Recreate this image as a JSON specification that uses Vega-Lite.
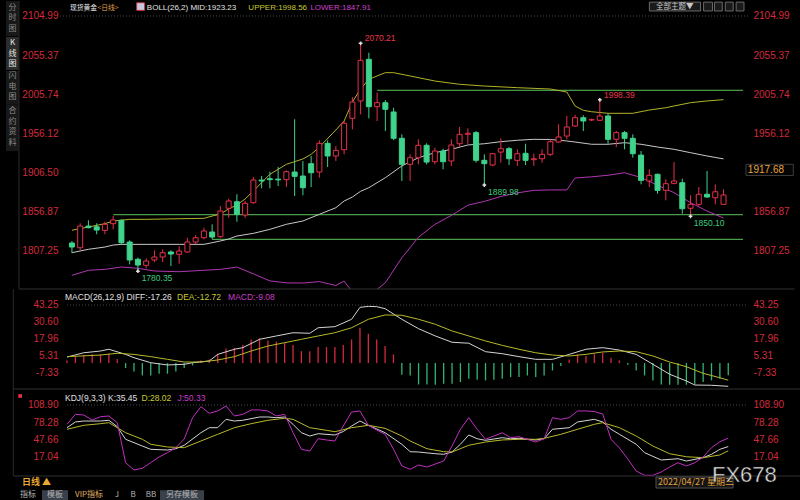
{
  "$schema": "https://vega.github.io/schema/vega-lite/v6.json",
  "background": "#000000",
  "padding": 0,
  "spacing": 0,
  "bounds": "flush",
  "config": {"view": {"stroke": null}, "font": "Liberation Sans", "axis": {"labelFont": "Liberation Sans"}},
  "datasets": {
    "candles": [
      {"i":0,"o":1816.2,"h":1818.7,"l":1803.5,"c":1811.1},
      {"i":1,"o":1810.2,"h":1841.3,"l":1807.3,"c":1837.8},
      {"i":2,"o":1837.8,"h":1845.1,"l":1834.9,"c":1835.7},
      {"i":3,"o":1836.9,"h":1841.3,"l":1827.3,"c":1832.7},
      {"i":4,"o":1832.3,"h":1843.3,"l":1827.3,"c":1840.0},
      {"i":5,"o":1840.8,"h":1850.6,"l":1833.6,"c":1845.5},
      {"i":6,"o":1845.1,"h":1846.3,"l":1813.7,"c":1816.6},
      {"i":7,"o":1817.5,"h":1819.6,"l":1789.1,"c":1794.6},
      {"i":8,"o":1795.5,"h":1797.6,"l":1780.35,"c":1788.2},
      {"i":9,"o":1787.8,"h":1796.7,"l":1784.0,"c":1793.3},
      {"i":10,"o":1794.6,"h":1806.9,"l":1792.0,"c":1798.4},
      {"i":11,"o":1798.4,"h":1808.2,"l":1792.0,"c":1803.9},
      {"i":12,"o":1804.8,"h":1806.9,"l":1786.9,"c":1802.2},
      {"i":13,"o":1801.8,"h":1812.0,"l":1789.9,"c":1806.0},
      {"i":14,"o":1804.8,"h":1822.9,"l":1803.9,"c":1817.5},
      {"i":15,"o":1817.5,"h":1826.4,"l":1814.6,"c":1822.9},
      {"i":16,"o":1822.9,"h":1835.6,"l":1820.9,"c":1831.5},
      {"i":17,"o":1830.2,"h":1840.0,"l":1820.9,"c":1823.8},
      {"i":18,"o":1824.2,"h":1863.3,"l":1822.9,"c":1856.9},
      {"i":19,"o":1860.4,"h":1872.5,"l":1848.4,"c":1869.7},
      {"i":20,"o":1868.7,"h":1878.2,"l":1843.3,"c":1852.7},
      {"i":21,"o":1851.8,"h":1869.7,"l":1848.4,"c":1866.7},
      {"i":22,"o":1867.5,"h":1900.2,"l":1866.2,"c":1896.3},
      {"i":23,"o":1896.3,"h":1901.4,"l":1885.8,"c":1895.1},
      {"i":24,"o":1898.0,"h":1906.9,"l":1885.8,"c":1896.8},
      {"i":25,"o":1897.5,"h":1912.9,"l":1888.7,"c":1896.5},
      {"i":26,"o":1896.8,"h":1908.7,"l":1887.4,"c":1906.9},
      {"i":27,"o":1906.5,"h":1973.6,"l":1876.0,"c":1901.0},
      {"i":28,"o":1901.4,"h":1920.5,"l":1876.9,"c":1886.6},
      {"i":29,"o":1917.1,"h":1926.9,"l":1887.4,"c":1905.6},
      {"i":30,"o":1906.5,"h":1946.8,"l":1899.3,"c":1943.0},
      {"i":31,"o":1943.0,"h":1946.8,"l":1912.9,"c":1926.9},
      {"i":32,"o":1926.9,"h":1939.6,"l":1920.5,"c":1934.1},
      {"i":33,"o":1934.9,"h":1971.4,"l":1929.0,"c":1968.5},
      {"i":34,"o":1974.8,"h":2001.9,"l":1960.8,"c":1995.6},
      {"i":35,"o":1996.9,"h":2070.21,"l":1979.9,"c":2048.6},
      {"i":36,"o":2049.9,"h":2058.3,"l":1974.8,"c":1989.6},
      {"i":37,"o":1989.6,"h":2007.4,"l":1971.4,"c":1994.7},
      {"i":38,"o":1994.7,"h":1998.1,"l":1958.7,"c":1986.3},
      {"i":39,"o":1982.9,"h":1988.3,"l":1947.0,"c":1949.4},
      {"i":40,"o":1949.4,"h":1954.5,"l":1895.1,"c":1916.3},
      {"i":41,"o":1916.3,"h":1929.0,"l":1895.1,"c":1924.7},
      {"i":42,"o":1924.7,"h":1948.1,"l":1916.3,"c":1940.5},
      {"i":43,"o":1940.5,"h":1943.0,"l":1916.3,"c":1919.2},
      {"i":44,"o":1919.6,"h":1937.4,"l":1916.3,"c":1933.2},
      {"i":45,"o":1933.2,"h":1936.2,"l":1910.0,"c":1919.6},
      {"i":46,"o":1920.5,"h":1948.1,"l":1914.2,"c":1940.9},
      {"i":47,"o":1942.5,"h":1963.8,"l":1938.3,"c":1954.5},
      {"i":48,"o":1954.5,"h":1962.1,"l":1942.5,"c":1955.8},
      {"i":49,"o":1956.6,"h":1958.7,"l":1918.4,"c":1921.4},
      {"i":50,"o":1921.4,"h":1929.0,"l":1889.98,"c":1917.1},
      {"i":51,"o":1915.4,"h":1930.7,"l":1914.0,"c":1929.8},
      {"i":52,"o":1931.9,"h":1949.4,"l":1918.4,"c":1936.2},
      {"i":53,"o":1936.2,"h":1938.3,"l":1915.4,"c":1923.4},
      {"i":54,"o":1921.4,"h":1935.4,"l":1914.2,"c":1929.8},
      {"i":55,"o":1930.3,"h":1942.5,"l":1915.4,"c":1921.4},
      {"i":56,"o":1922.2,"h":1929.8,"l":1914.2,"c":1923.4},
      {"i":57,"o":1923.4,"h":1935.4,"l":1918.4,"c":1929.0},
      {"i":58,"o":1929.0,"h":1948.1,"l":1926.9,"c":1945.1},
      {"i":59,"o":1944.7,"h":1967.2,"l":1943.8,"c":1951.1},
      {"i":60,"o":1952.3,"h":1977.8,"l":1948.1,"c":1963.8},
      {"i":61,"o":1965.0,"h":1979.5,"l":1963.8,"c":1975.6},
      {"i":62,"o":1975.6,"h":1978.7,"l":1958.7,"c":1971.4},
      {"i":63,"o":1972.7,"h":1974.4,"l":1971.4,"c":1973.1},
      {"i":64,"o":1972.3,"h":1998.39,"l":1971.4,"c":1977.8},
      {"i":65,"o":1977.8,"h":1980.7,"l":1942.5,"c":1948.1},
      {"i":66,"o":1948.1,"h":1958.7,"l":1938.3,"c":1956.6},
      {"i":67,"o":1956.6,"h":1958.7,"l":1935.4,"c":1949.4},
      {"i":68,"o":1949.4,"h":1954.5,"l":1924.7,"c":1929.8},
      {"i":69,"o":1928.1,"h":1933.2,"l":1890.9,"c":1895.9},
      {"i":70,"o":1895.1,"h":1909.9,"l":1887.4,"c":1902.3},
      {"i":71,"o":1903.6,"h":1904.4,"l":1878.9,"c":1883.2},
      {"i":72,"o":1883.2,"h":1897.2,"l":1870.5,"c":1891.7},
      {"i":73,"o":1892.1,"h":1919.2,"l":1890.9,"c":1895.1},
      {"i":74,"o":1892.9,"h":1898.0,"l":1853.5,"c":1859.8},
      {"i":75,"o":1860.4,"h":1876.9,"l":1850.10,"c":1865.4},
      {"i":76,"o":1865.4,"h":1887.4,"l":1863.3,"c":1878.2},
      {"i":77,"o":1878.2,"h":1907.8,"l":1873.8,"c":1874.7},
      {"i":78,"o":1873.8,"h":1890.9,"l":1865.4,"c":1881.4},
      {"i":79,"o":1865.4,"h":1884.5,"l":1865.4,"c":1877.3}
    ],
    "boll": [
      {"s":"UPPER","i":0,"v":1832.4},{"s":"UPPER","i":2,"v":1836.6},{"s":"UPPER","i":4,"v":1840.8},{"s":"UPPER","i":5,"v":1844.2},{"s":"UPPER","i":7,"v":1846.3},{"s":"UPPER","i":9,"v":1846.3},{"s":"UPPER","i":13,"v":1847.1},{"s":"UPPER","i":16,"v":1847.6},{"s":"UPPER","i":17,"v":1850.5},{"s":"UPPER","i":18,"v":1853.1},{"s":"UPPER","i":19,"v":1859.5},{"s":"UPPER","i":20,"v":1864.6},{"s":"UPPER","i":21,"v":1872.2},{"s":"UPPER","i":22,"v":1882.4},{"s":"UPPER","i":24,"v":1903.6},{"s":"UPPER","i":26,"v":1916.3},{"s":"UPPER","i":28,"v":1923.1},{"s":"UPPER","i":29,"v":1929.0},{"s":"UPPER","i":30,"v":1938.3},{"s":"UPPER","i":32,"v":1960.0},{"s":"UPPER","i":33,"v":1971.4},{"s":"UPPER","i":34,"v":1995.6},{"s":"UPPER","i":35,"v":2012.1},{"s":"UPPER","i":36,"v":2024.5},{"s":"UPPER","i":38,"v":2032.9},{"s":"UPPER","i":39,"v":2032.9},{"s":"UPPER","i":41,"v":2028.7},{"s":"UPPER","i":44,"v":2022.3},{"s":"UPPER","i":47,"v":2018.1},{"s":"UPPER","i":50,"v":2015.9},{"s":"UPPER","i":54,"v":2013.8},{"s":"UPPER","i":58,"v":2012.1},{"s":"UPPER","i":60,"v":2008.3},{"s":"UPPER","i":61,"v":1990.5},{"s":"UPPER","i":62,"v":1985.0},{"s":"UPPER","i":63,"v":1983.2},{"s":"UPPER","i":65,"v":1981.2},{"s":"UPPER","i":68,"v":1981.2},{"s":"UPPER","i":70,"v":1985.4},{"s":"UPPER","i":72,"v":1988.3},{"s":"UPPER","i":73,"v":1990.5},{"s":"UPPER","i":75,"v":1994.7},{"s":"UPPER","i":77,"v":1996.9},{"s":"UPPER","i":79,"v":1998.56},
      {"s":"MID","i":0,"v":1803.9},{"s":"MID","i":2,"v":1808.2},{"s":"MID","i":4,"v":1811.1},{"s":"MID","i":5,"v":1813.6},{"s":"MID","i":6,"v":1814.5},{"s":"MID","i":9,"v":1814.5},{"s":"MID","i":13,"v":1814.5},{"s":"MID","i":16,"v":1814.5},{"s":"MID","i":17,"v":1816.6},{"s":"MID","i":18,"v":1818.8},{"s":"MID","i":19,"v":1821.3},{"s":"MID","i":20,"v":1825.1},{"s":"MID","i":22,"v":1828.5},{"s":"MID","i":24,"v":1833.6},{"s":"MID","i":26,"v":1840.0},{"s":"MID","i":28,"v":1844.2},{"s":"MID","i":30,"v":1852.7},{"s":"MID","i":32,"v":1861.1},{"s":"MID","i":33,"v":1869.6},{"s":"MID","i":34,"v":1874.7},{"s":"MID","i":35,"v":1882.0},{"s":"MID","i":36,"v":1886.6},{"s":"MID","i":38,"v":1899.3},{"s":"MID","i":40,"v":1914.2},{"s":"MID","i":42,"v":1924.7},{"s":"MID","i":44,"v":1931.1},{"s":"MID","i":46,"v":1935.4},{"s":"MID","i":48,"v":1940.9},{"s":"MID","i":50,"v":1942.5},{"s":"MID","i":52,"v":1945.1},{"s":"MID","i":54,"v":1946.9},{"s":"MID","i":56,"v":1948.1},{"s":"MID","i":58,"v":1947.9},{"s":"MID","i":60,"v":1946.0},{"s":"MID","i":61,"v":1944.7},{"s":"MID","i":63,"v":1941.8},{"s":"MID","i":65,"v":1941.8},{"s":"MID","i":67,"v":1943.8},{"s":"MID","i":69,"v":1941.8},{"s":"MID","i":71,"v":1938.3},{"s":"MID","i":73,"v":1935.4},{"s":"MID","i":75,"v":1931.1},{"s":"MID","i":77,"v":1926.9},{"s":"MID","i":79,"v":1923.23},
      {"s":"LOWER","i":0,"v":1775.1},{"s":"LOWER","i":2,"v":1781.5},{"s":"LOWER","i":4,"v":1782.7},{"s":"LOWER","i":6,"v":1785.7},{"s":"LOWER","i":8,"v":1784.0},{"s":"LOWER","i":10,"v":1780.6},{"s":"LOWER","i":13,"v":1779.7},{"s":"LOWER","i":16,"v":1781.5},{"s":"LOWER","i":18,"v":1782.7},{"s":"LOWER","i":20,"v":1785.6},{"s":"LOWER","i":22,"v":1777.0},{"s":"LOWER","i":24,"v":1768.0},{"s":"LOWER","i":26,"v":1765.5},{"s":"LOWER","i":28,"v":1765.3},{"s":"LOWER","i":30,"v":1767.1},{"s":"LOWER","i":32,"v":1762.2},{"s":"LOWER","i":33,"v":1767.8},{"s":"LOWER","i":34,"v":1753.8},{"s":"LOWER","i":35,"v":1751.9},{"s":"LOWER","i":36,"v":1748.7},{"s":"LOWER","i":38,"v":1765.7},{"s":"LOWER","i":40,"v":1797.4},{"s":"LOWER","i":42,"v":1823.4},{"s":"LOWER","i":44,"v":1839.9},{"s":"LOWER","i":46,"v":1851.3},{"s":"LOWER","i":48,"v":1864.3},{"s":"LOWER","i":50,"v":1869.1},{"s":"LOWER","i":52,"v":1875.4},{"s":"LOWER","i":54,"v":1880.0},{"s":"LOWER","i":56,"v":1883.2},{"s":"LOWER","i":58,"v":1883.7},{"s":"LOWER","i":60,"v":1883.7},{"s":"LOWER","i":61,"v":1898.9},{"s":"LOWER","i":63,"v":1900.4},{"s":"LOWER","i":65,"v":1902.4},{"s":"LOWER","i":67,"v":1905.6},{"s":"LOWER","i":69,"v":1899.6},{"s":"LOWER","i":71,"v":1889.6},{"s":"LOWER","i":73,"v":1880.3},{"s":"LOWER","i":75,"v":1867.5},{"s":"LOWER","i":77,"v":1856.9},{"s":"LOWER","i":79,"v":1847.91}
    ],
    "macd": [
      {"s":"DIFF","i":0,"v":4.5},{"s":"DIFF","i":2,"v":7.7},{"s":"DIFF","i":4,"v":9.0},{"s":"DIFF","i":5,"v":10.3},{"s":"DIFF","i":7,"v":6.5},{"s":"DIFF","i":8,"v":4.0},{"s":"DIFF","i":10,"v":0.3},{"s":"DIFF","i":12,"v":-1.4},{"s":"DIFF","i":14,"v":-0.9},{"s":"DIFF","i":15,"v":0.3},{"s":"DIFF","i":17,"v":1.6},{"s":"DIFF","i":18,"v":6.5},{"s":"DIFF","i":20,"v":10.3},{"s":"DIFF","i":21,"v":11.5},{"s":"DIFF","i":23,"v":17.7},{"s":"DIFF","i":25,"v":20.2},{"s":"DIFF","i":27,"v":22.6},{"s":"DIFF","i":29,"v":22.2},{"s":"DIFF","i":30,"v":26.3},{"s":"DIFF","i":32,"v":27.1},{"s":"DIFF","i":34,"v":32.6},{"s":"DIFF","i":35,"v":41.5},{"s":"DIFF","i":36,"v":42.2},{"s":"DIFF","i":37,"v":42.0},{"s":"DIFF","i":38,"v":40.5},{"s":"DIFF","i":40,"v":32.6},{"s":"DIFF","i":42,"v":25.6},{"s":"DIFF","i":44,"v":20.2},{"s":"DIFF","i":46,"v":15.5},{"s":"DIFF","i":48,"v":14.8},{"s":"DIFF","i":50,"v":8.5},{"s":"DIFF","i":52,"v":7.0},{"s":"DIFF","i":54,"v":4.8},{"s":"DIFF","i":56,"v":2.8},{"s":"DIFF","i":58,"v":2.8},{"s":"DIFF","i":60,"v":6.5},{"s":"DIFF","i":62,"v":10.3},{"s":"DIFF","i":64,"v":11.5},{"s":"DIFF","i":66,"v":9.7},{"s":"DIFF","i":68,"v":6.5},{"s":"DIFF","i":70,"v":-0.9},{"s":"DIFF","i":72,"v":-8.3},{"s":"DIFF","i":74,"v":-13.3},{"s":"DIFF","i":75,"v":-16.3},{"s":"DIFF","i":77,"v":-16.5},{"s":"DIFF","i":79,"v":-17.26},
      {"s":"DEA","i":0,"v":4.8},{"s":"DEA","i":4,"v":6.0},{"s":"DEA","i":6,"v":7.3},{"s":"DEA","i":8,"v":6.5},{"s":"DEA","i":10,"v":4.8},{"s":"DEA","i":12,"v":2.8},{"s":"DEA","i":14,"v":0.8},{"s":"DEA","i":16,"v":0.8},{"s":"DEA","i":18,"v":2.3},{"s":"DEA","i":20,"v":4.8},{"s":"DEA","i":22,"v":9.0},{"s":"DEA","i":24,"v":12.7},{"s":"DEA","i":26,"v":15.2},{"s":"DEA","i":28,"v":17.7},{"s":"DEA","i":30,"v":20.2},{"s":"DEA","i":32,"v":22.6},{"s":"DEA","i":34,"v":26.3},{"s":"DEA","i":36,"v":32.6},{"s":"DEA","i":38,"v":35.8},{"s":"DEA","i":40,"v":35.6},{"s":"DEA","i":42,"v":32.6},{"s":"DEA","i":44,"v":28.9},{"s":"DEA","i":46,"v":23.9},{"s":"DEA","i":48,"v":20.2},{"s":"DEA","i":50,"v":16.5},{"s":"DEA","i":52,"v":13.2},{"s":"DEA","i":54,"v":10.3},{"s":"DEA","i":56,"v":7.7},{"s":"DEA","i":58,"v":6.0},{"s":"DEA","i":60,"v":5.3},{"s":"DEA","i":62,"v":6.5},{"s":"DEA","i":64,"v":8.3},{"s":"DEA","i":66,"v":9.0},{"s":"DEA","i":68,"v":8.5},{"s":"DEA","i":70,"v":5.3},{"s":"DEA","i":72,"v":0.8},{"s":"DEA","i":74,"v":-2.7},{"s":"DEA","i":76,"v":-7.6},{"s":"DEA","i":78,"v":-10.9},{"s":"DEA","i":79,"v":-12.72}
    ],
    "hist": [
      {"i":0,"v":2},{"i":1,"v":5},{"i":2,"v":6},{"i":3,"v":6.5},{"i":4,"v":6.5},{"i":5,"v":7},{"i":6,"v":3},{"i":7,"v":-3.7},{"i":8,"v":-6.2},{"i":9,"v":-9.2},{"i":10,"v":-9.2},{"i":11,"v":-7.9},{"i":12,"v":-7.9},{"i":13,"v":-6.2},{"i":14,"v":-3.7},{"i":15,"v":-1.7},{"i":16,"v":2},{"i":17,"v":2.7},{"i":18,"v":7},{"i":19,"v":10.9},{"i":20,"v":11.4},{"i":21,"v":13.4},{"i":22,"v":17.6},{"i":23,"v":18.4},{"i":24,"v":16.9},{"i":25,"v":15.9},{"i":26,"v":15.1},{"i":27,"v":13.4},{"i":28,"v":8.9},{"i":29,"v":8.9},{"i":30,"v":11.9},{"i":31,"v":11.9},{"i":32,"v":11.9},{"i":33,"v":13.4},{"i":34,"v":17.6},{"i":35,"v":26.3},{"i":36,"v":21.8},{"i":37,"v":17.6},{"i":38,"v":12.7},{"i":39,"v":6.5},
      {"i":40,"v":-8.7},{"i":41,"v":-9.2},{"i":42,"v":-15.9},{"i":43,"v":-15.9},{"i":44,"v":-16.1},{"i":45,"v":-15.4},{"i":46,"v":-15.4},{"i":47,"v":-14.1},{"i":48,"v":-11.7},{"i":49,"v":-12.4},{"i":50,"v":-12.9},{"i":51,"v":-12.4},{"i":52,"v":-11.7},{"i":53,"v":-10.4},{"i":54,"v":-10.4},{"i":55,"v":-9.2},{"i":56,"v":-10.4},{"i":57,"v":-9.2},{"i":58,"v":-5.5},{"i":59,"v":-2.2},{"i":60,"v":2.7},{"i":61,"v":6.5},{"i":62,"v":5.2},{"i":63,"v":6.5},{"i":64,"v":7.7},{"i":65,"v":4},{"i":66,"v":2},{"i":67,"v":-1.2},{"i":68,"v":-5.5},{"i":69,"v":-9.2},{"i":70,"v":-12.9},{"i":71,"v":-15.9},{"i":72,"v":-16.1},{"i":73,"v":-16.1},{"i":74,"v":-16.1},{"i":75,"v":-15.9},{"i":76,"v":-14.1},{"i":77,"v":-12.9},{"i":78,"v":-11.7},{"i":79,"v":-9.08}
    ],
    "kdj": [
      {"s":"K","i":0,"v":68.8},{"s":"K","i":1,"v":78.9},{"s":"K","i":2,"v":80.6},{"s":"K","i":4,"v":80.6},{"s":"K","i":5,"v":81.9},{"s":"K","i":6,"v":70.5},{"s":"K","i":7,"v":48.3},{"s":"K","i":9,"v":36.4},{"s":"K","i":10,"v":30.6},{"s":"K","i":12,"v":29.4},{"s":"K","i":13,"v":31.7},{"s":"K","i":14,"v":37.7},{"s":"K","i":16,"v":60.0},{"s":"K","i":17,"v":68.8},{"s":"K","i":18,"v":68.8},{"s":"K","i":19,"v":83.6},{"s":"K","i":20,"v":80.6},{"s":"K","i":21,"v":81.9},{"s":"K","i":23,"v":87.7},{"s":"K","i":24,"v":87.7},{"s":"K","i":25,"v":86.5},{"s":"K","i":26,"v":87.7},{"s":"K","i":27,"v":74.8},{"s":"K","i":28,"v":60.0},{"s":"K","i":29,"v":54.1},{"s":"K","i":30,"v":58.2},{"s":"K","i":32,"v":55.9},{"s":"K","i":33,"v":62.0},{"s":"K","i":34,"v":71.8},{"s":"K","i":35,"v":80.6},{"s":"K","i":36,"v":73.0},{"s":"K","i":38,"v":60.0},{"s":"K","i":40,"v":39.5},{"s":"K","i":41,"v":26.4},{"s":"K","i":42,"v":25.8},{"s":"K","i":44,"v":22.8},{"s":"K","i":45,"v":21.8},{"s":"K","i":46,"v":25.8},{"s":"K","i":47,"v":39.5},{"s":"K","i":48,"v":55.9},{"s":"K","i":49,"v":49.3},{"s":"K","i":50,"v":46.5},{"s":"K","i":52,"v":51.1},{"s":"K","i":53,"v":49.3},{"s":"K","i":54,"v":50.0},{"s":"K","i":56,"v":47.1},{"s":"K","i":57,"v":49.3},{"s":"K","i":58,"v":66.0},{"s":"K","i":60,"v":68.8},{"s":"K","i":61,"v":78.9},{"s":"K","i":63,"v":83.6},{"s":"K","i":64,"v":78.9},{"s":"K","i":65,"v":66.0},{"s":"K","i":66,"v":57.1},{"s":"K","i":68,"v":39.5},{"s":"K","i":69,"v":24.6},{"s":"K","i":71,"v":11.7},{"s":"K","i":73,"v":14.0},{"s":"K","i":74,"v":9.9},{"s":"K","i":76,"v":15.8},{"s":"K","i":77,"v":21.8},{"s":"K","i":78,"v":30.6},{"s":"K","i":79,"v":35.45},
      {"s":"D","i":0,"v":66.0},{"s":"D","i":2,"v":73.0},{"s":"D","i":4,"v":75.9},{"s":"D","i":5,"v":77.7},{"s":"D","i":7,"v":60.0},{"s":"D","i":9,"v":48.3},{"s":"D","i":10,"v":39.5},{"s":"D","i":12,"v":34.7},{"s":"D","i":14,"v":33.5},{"s":"D","i":16,"v":45.3},{"s":"D","i":18,"v":57.1},{"s":"D","i":20,"v":68.8},{"s":"D","i":22,"v":75.9},{"s":"D","i":24,"v":81.9},{"s":"D","i":26,"v":85.4},{"s":"D","i":27,"v":83.6},{"s":"D","i":29,"v":68.8},{"s":"D","i":31,"v":64.2},{"s":"D","i":32,"v":61.7},{"s":"D","i":34,"v":68.8},{"s":"D","i":36,"v":73.0},{"s":"D","i":38,"v":67.7},{"s":"D","i":40,"v":54.1},{"s":"D","i":41,"v":45.3},{"s":"D","i":43,"v":31.7},{"s":"D","i":45,"v":26.4},{"s":"D","i":46,"v":25.8},{"s":"D","i":48,"v":37.7},{"s":"D","i":50,"v":43.5},{"s":"D","i":52,"v":47.1},{"s":"D","i":54,"v":48.3},{"s":"D","i":56,"v":48.3},{"s":"D","i":57,"v":50.0},{"s":"D","i":59,"v":57.1},{"s":"D","i":61,"v":66.0},{"s":"D","i":63,"v":74.8},{"s":"D","i":64,"v":77.7},{"s":"D","i":66,"v":68.8},{"s":"D","i":68,"v":54.1},{"s":"D","i":70,"v":36.4},{"s":"D","i":72,"v":22.8},{"s":"D","i":74,"v":17.5},{"s":"D","i":76,"v":15.8},{"s":"D","i":78,"v":20.6},{"s":"D","i":79,"v":28.02},
      {"s":"J","i":0,"v":74.8},{"s":"J","i":1,"v":92.4},{"s":"J","i":2,"v":91.2},{"s":"J","i":3,"v":82.4},{"s":"J","i":4,"v":88.2},{"s":"J","i":5,"v":89.5},{"s":"J","i":6,"v":77.6},{"s":"J","i":7,"v":6.9},{"s":"J","i":8,"v":-5.9},{"s":"J","i":9,"v":-2.9},{"s":"J","i":11,"v":17.0},{"s":"J","i":12,"v":24.6},{"s":"J","i":13,"v":33.5},{"s":"J","i":14,"v":48.8},{"s":"J","i":15,"v":86.5},{"s":"J","i":16,"v":105.9},{"s":"J","i":17,"v":94.3},{"s":"J","i":18,"v":98.3},{"s":"J","i":19,"v":107.1},{"s":"J","i":20,"v":89.5},{"s":"J","i":21,"v":92.4},{"s":"J","i":22,"v":100.1},{"s":"J","i":23,"v":100.1},{"s":"J","i":24,"v":98.3},{"s":"J","i":25,"v":89.5},{"s":"J","i":26,"v":92.4},{"s":"J","i":27,"v":60.1},{"s":"J","i":28,"v":30.6},{"s":"J","i":29,"v":27.6},{"s":"J","i":30,"v":49.3},{"s":"J","i":31,"v":47.1},{"s":"J","i":32,"v":45.3},{"s":"J","i":33,"v":71.8},{"s":"J","i":34,"v":96.5},{"s":"J","i":35,"v":98.3},{"s":"J","i":36,"v":73.0},{"s":"J","i":37,"v":64.7},{"s":"J","i":38,"v":57.1},{"s":"J","i":39,"v":31.1},{"s":"J","i":40,"v":1.1},{"s":"J","i":41,"v":-4.7},{"s":"J","i":42,"v":2.9},{"s":"J","i":43,"v":-0.7},{"s":"J","i":45,"v":10.0},{"s":"J","i":46,"v":36.5},{"s":"J","i":47,"v":66.0},{"s":"J","i":48,"v":86.5},{"s":"J","i":49,"v":66.0},{"s":"J","i":50,"v":48.3},{"s":"J","i":52,"v":59.9},{"s":"J","i":53,"v":51.1},{"s":"J","i":54,"v":52.9},{"s":"J","i":56,"v":43.5},{"s":"J","i":57,"v":49.3},{"s":"J","i":58,"v":86.5},{"s":"J","i":59,"v":83.6},{"s":"J","i":60,"v":86.5},{"s":"J","i":61,"v":98.3},{"s":"J","i":62,"v":98.3},{"s":"J","i":63,"v":97.4},{"s":"J","i":64,"v":93.0},{"s":"J","i":65,"v":48.3},{"s":"J","i":66,"v":32.9},{"s":"J","i":67,"v":13.5},{"s":"J","i":68,"v":-7.7},{"s":"J","i":69,"v":-15.3},{"s":"J","i":70,"v":-15.3},{"s":"J","i":71,"v":-9.5},{"s":"J","i":72,"v":-0.7},{"s":"J","i":73,"v":6.9},{"s":"J","i":74,"v":1.1},{"s":"J","i":75,"v":6.9},{"s":"J","i":76,"v":17.0},{"s":"J","i":77,"v":33.5},{"s":"J","i":78,"v":44.0},{"s":"J","i":79,"v":50.33}
    ]
  },
  "vconcat": [
    {
      "width": 688,
      "height": 288,
      "resolve": {"scale": {"color": "independent"}, "axis": {"y": "independent"}},
      "layer": [
        {
          "data": {"values": [{"p1":2079.5,"p2":2124.07,"on":false},{"p1":2036.3,"p2":2078.3,"on":true},{"p1":1992.1,"p2":2035.0,"on":false},{"p1":1933.2,"p2":1991.8,"on":false}]},
          "mark": {"type": "rect", "clip": false},
          "encoding": {
            "x": {"datum": -8.0, "type": "quantitative", "scale": {"domain": [-0.84, 81.36], "nice": false, "zero": false}, "axis": null},
            "x2": {"datum": -6.45},
            "y": {"field": "p1", "type": "quantitative", "scale": {"domain": [1757.7, 2124.07], "nice": false, "zero": false}, "axis": null},
            "y2": {"field": "p2"},
            "fill": {"condition": {"test": "datum.on", "value": "#2c2c2c"}, "value": "#181818"}
          }
        },
        {
          "data": {"values": [{"t":"分\n时\n图","p":2120.3,"on":false},{"t":"K\n线\n图","p":2075.7,"on":true},{"t":"闪\n电\n图","p":2033.7,"on":false},{"t":"合\n约\n资\n料","p":1989.0,"on":false}]},
          "mark": {"type": "text", "font": "Noto Sans CJK SC", "fontSize": 8, "lineBreak": "\n", "lineHeight": 10.5, "baseline": "top", "align": "center", "clip": false},
          "encoding": {
            "x": {"datum": -7.2, "type": "quantitative", "axis": null},
            "y": {"field": "p", "type": "quantitative", "axis": null},
            "text": {"field": "t"},
            "color": {"condition": {"test": "datum.on", "value": "#e6e6e6"}, "value": "#8a8a8a"}
          }
        },
        {
          "data": {"values": [{}]},
          "mark": {"type": "rule", "color": "#2a2a2a", "clip": false},
          "encoding": {"x": {"datum": -6.42, "type": "quantitative", "axis": null}}
        },
        {
          "data": {"values": [{"p": 2104.99}]},
          "mark": {"type": "rule", "color": "#4a4a4a", "strokeDash": [1, 2]},
          "encoding": {
            "y": {"field": "p", "type": "quantitative", "axis": {"orient": "left", "values": [2104.99, 2055.37, 2005.74, 1956.12, 1906.50, 1856.87, 1807.25], "format": ".2f", "labelColor": "#d42a3c", "labelFontSize": 10, "ticks": false, "domain": false, "grid": false, "title": null, "labelPadding": 2, "minExtent": 60, "maxExtent": 60, "labelFlush": false, "labelOverlap": false}}
          }
        },
        {
          "data": {"values": [{"i":5,"p":1852.2},{"i":17,"p":1820.9},{"i":37,"p":2010.5}]},
          "mark": {"type": "rule", "color": "#5cc25c", "strokeWidth": 1},
          "encoding": {
            "x": {"field": "i", "type": "quantitative", "axis": null},
            "x2": {"datum": 81.36},
            "y": {"field": "p", "type": "quantitative", "axis": null}
          }
        },
        {
          "data": {"name": "boll"},
          "mark": {"type": "line", "strokeWidth": 1, "clip": true},
          "encoding": {
            "x": {"field": "i", "type": "quantitative", "axis": null},
            "y": {"field": "v", "type": "quantitative", "axis": null},
            "color": {"field": "s", "type": "nominal", "scale": {"domain": ["UPPER", "MID", "LOWER"], "range": ["#b2b22a", "#c8c8c8", "#b236b2"]}, "legend": null}
          }
        },
        {
          "data": {"name": "candles"},
          "mark": {"type": "rule", "strokeWidth": 1},
          "encoding": {
            "x": {"field": "i", "type": "quantitative", "axis": null},
            "y": {"field": "l", "type": "quantitative", "axis": null},
            "y2": {"field": "h"},
            "color": {"condition": {"test": "datum.c >= datum.o", "value": "#e5304a"}, "value": "#3fd38b"}
          }
        },
        {
          "data": {"name": "candles"},
          "mark": {"type": "bar", "width": 5, "strokeWidth": 1},
          "encoding": {
            "x": {"field": "i", "type": "quantitative", "axis": null},
            "y": {"field": "o", "type": "quantitative", "axis": null},
            "y2": {"field": "c"},
            "fill": {"condition": {"test": "datum.c >= datum.o", "value": "#000000"}, "value": "#3fd38b"},
            "stroke": {"condition": {"test": "datum.c >= datum.o", "value": "#e5304a"}, "value": "#3fd38b"}
          }
        },
        {
          "data": {"values": [{"i":35,"p":2070.21},{"i":64,"p":1998.39},{"i":50,"p":1889.98},{"i":75,"p":1850.10},{"i":8,"p":1780.35}]},
          "mark": {"type": "point", "shape": "cross", "filled": true, "size": 14, "color": "#e0e0e0", "opacity": 1},
          "encoding": {
            "x": {"field": "i", "type": "quantitative", "axis": null},
            "y": {"field": "p", "type": "quantitative", "axis": null}
          }
        },
        {
          "data": {"values": [{"i":35.5,"p":2076.6,"t":"2070.21","hi":true},{"i":64.5,"p":2004.1,"t":"1998.39","hi":true},{"i":50.45,"p":1881.5,"t":"1889.98","hi":false},{"i":75.4,"p":1842.0,"t":"1850.10","hi":false},{"i":8.45,"p":1771.3,"t":"1780.35","hi":false}]},
          "mark": {"type": "text", "align": "left", "baseline": "middle", "fontSize": 8.5, "font": "Liberation Sans"},
          "encoding": {
            "x": {"field": "i", "type": "quantitative", "axis": null},
            "y": {"field": "p", "type": "quantitative", "axis": null},
            "text": {"field": "t"},
            "color": {"condition": {"test": "datum.hi", "value": "#e8364a"}, "value": "#3ec97f"}
          }
        },
        {
          "data": {"values": [{"i":-0.24,"p":2115.5,"t":"现货黄金","s":"name"},{"i":3.1,"p":2115.5,"t":"<日线>","s":"tag"}]},
          "mark": {"type": "text", "align": "left", "baseline": "middle", "fontSize": 6.8, "font": "Noto Sans CJK SC", "clip": false},
          "encoding": {
            "x": {"field": "i", "type": "quantitative", "axis": null},
            "y": {"field": "p", "type": "quantitative", "axis": null},
            "text": {"field": "t"},
            "color": {"field": "s", "type": "nominal", "scale": {"domain": ["name", "tag"], "range": ["#f0f0f0", "#e0a04a"]}, "legend": null}
          }
        },
        {
          "data": {"values": [{"i":9.08,"p":2115.5,"t":"BOLL(26,2) MID:1923.23","s":"MID"},{"i":21.39,"p":2115.5,"t":"UPPER:1998.56","s":"UPPER"},{"i":28.91,"p":2115.5,"t":"LOWER:1847.91","s":"LOWER"}]},
          "mark": {"type": "text", "align": "left", "baseline": "middle", "fontSize": 8, "font": "Liberation Sans"},
          "encoding": {
            "x": {"field": "i", "type": "quantitative", "axis": null},
            "y": {"field": "p", "type": "quantitative", "axis": null},
            "text": {"field": "t"},
            "color": {"field": "s", "type": "nominal", "scale": {"domain": ["MID", "UPPER", "LOWER"], "range": ["#e0e0e0", "#c8c832", "#d040d0"]}, "legend": null}
          }
        },
        {
          "data": {"values": [{"a":7.85,"b":8.8}]},
          "mark": {"type": "rect", "fill": "#c8c8dc", "stroke": "#d83040", "strokeWidth": 0.8, "clip": false},
          "encoding": {
            "x": {"field": "a", "type": "quantitative", "axis": null},
            "x2": {"field": "b"},
            "y": {"datum": 2121.8, "type": "quantitative", "axis": null},
            "y2": {"datum": 2112.2}
          }
        },
        {
          "data": {"values": [{"a":70.01,"b":76.22},{"a":76.58,"b":77.66},{"a":77.9,"b":78.85},{"a":79.21,"b":80.17},{"a":80.53,"b":81.48}]},
          "mark": {"type": "rect", "fill": "#1a1a1a", "stroke": "#6a6a6a", "strokeWidth": 1, "clip": false},
          "encoding": {
            "x": {"field": "a", "type": "quantitative", "axis": null},
            "x2": {"field": "b"},
            "y": {"datum": 2122.6, "type": "quantitative", "axis": null},
            "y2": {"datum": 2111.4}
          }
        },
        {
          "data": {"values": [{"i":73.1,"p":2117.0,"t":"全部主题▼"}]},
          "mark": {"type": "text", "align": "center", "baseline": "middle", "fontSize": 7.5, "font": "Noto Sans CJK SC", "color": "#c8c8c8"},
          "encoding": {
            "x": {"field": "i", "type": "quantitative", "axis": null},
            "y": {"field": "p", "type": "quantitative", "axis": null},
            "text": {"field": "t"}
          }
        },
        {
          "data": {"values": [{}]},
          "mark": {"type": "rect", "fill": "#050505", "stroke": "#3c3c3c", "clip": false},
          "encoding": {
            "x": {"datum": 81.72, "type": "quantitative", "axis": null},
            "x2": {"datum": 87.46},
            "y": {"datum": 1902.1, "type": "quantitative", "axis": null},
            "y2": {"datum": 1916.3}
          }
        },
        {
          "data": {"values": [{"i":81.95,"p":1909.2,"t":"1917.68"}]},
          "mark": {"type": "text", "align": "left", "baseline": "middle", "fontSize": 10, "font": "Liberation Sans", "color": "#e8a33c", "clip": false},
          "encoding": {
            "x": {"field": "i", "type": "quantitative", "axis": null},
            "y": {"field": "p", "type": "quantitative", "axis": {"orient": "right", "values": [2104.99, 2055.37, 2005.74, 1956.12, 1856.87, 1807.25], "format": ".2f", "labelColor": "#d42a3c", "labelFontSize": 10, "ticks": false, "domain": false, "grid": false, "title": null, "labelPadding": 5, "minExtent": 52, "maxExtent": 52, "labelFlush": false, "labelOverlap": false}},
            "text": {"field": "t"}
          }
        },
        {
          "data": {"values": [{}]},
          "mark": {"type": "rule", "color": "#303030", "clip": false},
          "encoding": {
            "x": {"datum": -6.42, "type": "quantitative", "axis": null},
            "x2": {"datum": 87.6},
            "y": {"datum": 1757.7, "type": "quantitative", "axis": null}
          }
        }
      ]
    },
    {
      "width": 688,
      "height": 100,
      "resolve": {"scale": {"color": "independent"}, "axis": {"y": "independent"}},
      "layer": [
        {
          "data": {"values": [{"v": 43.25}]},
          "mark": {"type": "rule", "color": "#4a4a4a", "strokeDash": [1, 2]},
          "encoding": {
            "x": {"datum": 0, "type": "quantitative", "scale": {"domain": [-0.84, 81.36], "nice": false, "zero": false}, "axis": null},
            "x2": {"datum": 81.36},
            "y": {"field": "v", "type": "quantitative", "scale": {"domain": [-19.27, 55.14], "nice": false, "zero": false}, "axis": {"orient": "left", "values": [43.25, 30.60, 17.96, 5.31, -7.33], "labelExpr": "replace(format(datum.value, '.2f'), '\u2212', '-')", "labelColor": "#d42a3c", "labelFontSize": 10, "ticks": false, "domain": false, "grid": false, "title": null, "labelPadding": 2, "minExtent": 60, "maxExtent": 60, "labelFlush": false, "labelOverlap": false}}
          }
        },
        {
          "data": {"values": [{}]},
          "mark": {"type": "rule", "color": "#2a2a2a", "clip": false},
          "encoding": {"x": {"datum": -6.42, "type": "quantitative", "axis": null}}
        },
        {
          "data": {"name": "hist"},
          "mark": {"type": "rule", "strokeWidth": 1.3},
          "encoding": {
            "x": {"field": "i", "type": "quantitative", "axis": null},
            "y": {"field": "v", "type": "quantitative", "axis": {"orient": "right", "values": [43.25, 30.60, 17.96, 5.31, -7.33], "labelExpr": "replace(format(datum.value, '.2f'), '\u2212', '-')", "labelColor": "#d42a3c", "labelFontSize": 10, "ticks": false, "domain": false, "grid": false, "title": null, "labelPadding": 5, "minExtent": 52, "maxExtent": 52, "labelFlush": false, "labelOverlap": false}},
            "y2": {"datum": 0},
            "color": {"condition": {"test": "datum.v >= 0", "value": "#d42a3c"}, "value": "#34b472"}
          }
        },
        {
          "data": {"name": "macd"},
          "mark": {"type": "line", "strokeWidth": 1, "clip": true},
          "encoding": {
            "x": {"field": "i", "type": "quantitative", "axis": null},
            "y": {"field": "v", "type": "quantitative", "axis": null},
            "color": {"field": "s", "type": "nominal", "scale": {"domain": ["DIFF", "DEA"], "range": ["#d4d4d4", "#b8b82a"]}, "legend": null}
          }
        },
        {
          "data": {"values": [{"i":-0.24,"v":49.2,"t":"MACD(26,12,9) DIFF:-17.26","s":"DIFF"},{"i":13.14,"v":49.2,"t":"DEA:-12.72","s":"DEA"},{"i":19.24,"v":49.2,"t":"MACD:-9.08","s":"MACD"}]},
          "mark": {"type": "text", "align": "left", "baseline": "middle", "fontSize": 8.5, "font": "Liberation Sans"},
          "encoding": {
            "x": {"field": "i", "type": "quantitative", "axis": null},
            "y": {"field": "v", "type": "quantitative", "axis": null},
            "text": {"field": "t"},
            "color": {"field": "s", "type": "nominal", "scale": {"domain": ["DIFF", "DEA", "MACD"], "range": ["#e0e0e0", "#c8c832", "#c83ec8"]}, "legend": null}
          }
        },
        {
          "data": {"values": [{}]},
          "mark": {"type": "rule", "color": "#303030", "clip": false},
          "encoding": {
            "x": {"datum": -6.42, "type": "quantitative", "axis": null},
            "x2": {"datum": 87.6},
            "y": {"datum": -19.27, "type": "quantitative", "axis": null}
          }
        }
      ]
    },
    {
      "width": 688,
      "height": 87,
      "resolve": {"scale": {"color": "independent"}, "axis": {"y": "independent"}},
      "layer": [
        {
          "data": {"values": [{"v": 108.9}]},
          "mark": {"type": "rule", "color": "#4a4a4a", "strokeDash": [1, 2]},
          "encoding": {
            "x": {"datum": 0, "type": "quantitative", "scale": {"domain": [-0.84, 81.36], "nice": false, "zero": false},
              "axis": {"orient": "bottom", "values": [10, 30, 53], "labelExpr": "datum.value == 10 ? '2022/02' : datum.value == 30 ? '2022/03' : '2022/04'", "labelAlign": "left", "labelBaseline": "top", "labelColor": "#a8a8a8", "labelFontSize": 8.5, "labelPadding": 2, "labelOffset": 1, "ticks": false, "domain": false, "grid": false, "title": null, "labelFlush": false, "labelOverlap": false}},
            "x2": {"datum": 81.36},
            "y": {"field": "v", "type": "quantitative", "scale": {"domain": [-16.55, 137.17], "nice": false, "zero": false}, "axis": {"orient": "left", "values": [108.9, 78.28, 47.66, 17.04], "format": ".2f", "labelColor": "#d42a3c", "labelFontSize": 10, "ticks": false, "domain": false, "grid": false, "title": null, "labelPadding": 2, "minExtent": 60, "maxExtent": 60, "labelFlush": false, "labelOverlap": false}}
          }
        },
        {
          "data": {"values": [{}]},
          "mark": {"type": "rule", "color": "#2a2a2a", "clip": false},
          "encoding": {"x": {"datum": -6.42, "type": "quantitative", "axis": null}}
        },
        {
          "data": {"name": "kdj"},
          "mark": {"type": "line", "strokeWidth": 1, "clip": true},
          "encoding": {
            "x": {"field": "i", "type": "quantitative", "axis": null},
            "y": {"field": "v", "type": "quantitative", "axis": {"orient": "right", "values": [108.9, 78.28, 47.66, 17.04], "format": ".2f", "labelColor": "#d42a3c", "labelFontSize": 10, "ticks": false, "domain": false, "grid": false, "title": null, "labelPadding": 5, "minExtent": 52, "maxExtent": 52, "labelFlush": false, "labelOverlap": false}},
            "color": {"field": "s", "type": "nominal", "scale": {"domain": ["K", "D", "J"], "range": ["#d4d4d4", "#b8b82a", "#c030c0"]}, "legend": null}
          }
        },
        {
          "data": {"values": [{"i":-0.24,"v":121.8,"t":"KDJ(9,3,3) K:35.45","s":"K"},{"i":8.9,"v":121.8,"t":"D:28.02","s":"D"},{"i":13.2,"v":121.8,"t":"J:50.33","s":"J"}]},
          "mark": {"type": "text", "align": "left", "baseline": "middle", "fontSize": 8.5, "font": "Liberation Sans"},
          "encoding": {
            "x": {"field": "i", "type": "quantitative", "axis": null},
            "y": {"field": "v", "type": "quantitative", "axis": null},
            "text": {"field": "t"},
            "color": {"field": "s", "type": "nominal", "scale": {"domain": ["K", "D", "J"], "range": ["#e0e0e0", "#c8c832", "#c83ec8"]}, "legend": null}
          }
        },
        {
          "data": {"values": [{"i":-5.6,"v":124.8}]},
          "mark": {"type": "square", "size": 14, "color": "#e03040", "opacity": 1, "clip": false},
          "encoding": {
            "x": {"field": "i", "type": "quantitative", "axis": null},
            "y": {"field": "v", "type": "quantitative", "axis": null}
          }
        },
        {
          "data": {"values": [{}]},
          "mark": {"type": "rule", "color": "#303030", "clip": false},
          "encoding": {
            "x": {"datum": -6.42, "type": "quantitative", "axis": null},
            "x2": {"datum": 87.6},
            "y": {"datum": -16.55, "type": "quantitative", "axis": null}
          }
        },
        {
          "data": {"values": [{"i":-5.38,"v":-27.2,"t":"日线 ▲"}]},
          "mark": {"type": "text", "align": "left", "baseline": "middle", "fontSize": 9, "fontWeight": "bold", "font": "Noto Sans CJK SC", "color": "#e8a832", "clip": false},
          "encoding": {
            "x": {"field": "i", "type": "quantitative", "axis": null},
            "y": {"field": "v", "type": "quantitative", "axis": null},
            "text": {"field": "t"}
          }
        },
        {
          "data": {"values": [{"a":70.37,"b":79.57,"v1":-18.3,"v2":-37.8}]},
          "mark": {"type": "rect", "fill": "#141414", "stroke": "#505050", "clip": false},
          "encoding": {
            "x": {"field": "a", "type": "quantitative", "axis": null},
            "x2": {"field": "b"},
            "y": {"field": "v1", "type": "quantitative", "axis": null},
            "y2": {"field": "v2"}
          }
        },
        {
          "data": {"values": [{"i":70.6,"v":-28.0,"t":"2022/04/27 星期三"}]},
          "mark": {"type": "text", "align": "left", "baseline": "middle", "fontSize": 9, "font": "Noto Sans CJK SC", "color": "#e0a040", "clip": false},
          "encoding": {
            "x": {"field": "i", "type": "quantitative", "axis": null},
            "y": {"field": "v", "type": "quantitative", "axis": null},
            "text": {"field": "t"}
          }
        },
        {
          "data": {"values": [{"i":77.06,"v":-14.8,"t":"FX678"}]},
          "mark": {"type": "text", "align": "left", "baseline": "middle", "fontSize": 22, "font": "Liberation Sans", "color": "#e8e8e8", "stroke": "#202020", "strokeWidth": 0.5, "clip": false},
          "encoding": {
            "x": {"field": "i", "type": "quantitative", "axis": null},
            "y": {"field": "v", "type": "quantitative", "axis": null},
            "text": {"field": "t"}
          }
        },
        {
          "data": {"values": [{"a":-2.99,"b":0.12},{"a":11.11,"b":16.37}]},
          "mark": {"type": "rect", "fill": "#3a404a", "clip": false},
          "encoding": {
            "x": {"field": "a", "type": "quantitative", "axis": null},
            "x2": {"field": "b"},
            "y": {"datum": -41.6, "type": "quantitative", "axis": null},
            "y2": {"datum": -60.5}
          }
        },
        {
          "data": {"values": [{"i":-4.66,"t":"指标","vip":false},{"i":-1.43,"t":"模板","vip":false},{"i":2.63,"t":"VIP指标","vip":true},{"i":5.97,"t":"J","vip":false},{"i":7.89,"t":"B","vip":false},{"i":10.04,"t":"BB","vip":false},{"i":13.74,"t":"另存模板","vip":false}]},
          "mark": {"type": "text", "align": "center", "baseline": "middle", "fontSize": 8, "font": "Noto Sans CJK SC", "clip": false},
          "encoding": {
            "x": {"field": "i", "type": "quantitative", "axis": null},
            "y": {"datum": -51.0, "type": "quantitative", "axis": null},
            "text": {"field": "t"},
            "color": {"condition": {"test": "datum.vip", "value": "#e0b060"}, "value": "#b4b4b4"}
          }
        }
      ]
    }
  ]
}
